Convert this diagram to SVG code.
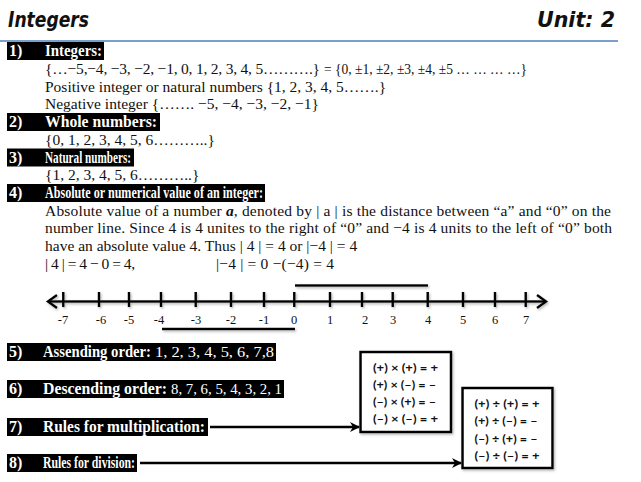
<svg xmlns="http://www.w3.org/2000/svg" width="641" height="482" viewBox="0 0 641 482">
<defs>
<style>
.title{font-family:"DejaVu Sans","Liberation Sans",sans-serif;font-weight:bold;font-style:italic;font-size:21px;fill:#111}
.hb{fill:#000}
.ht{font-family:"Liberation Serif","Times New Roman",serif;font-weight:bold;font-size:16px;fill:#fff}
.hn{font-family:"Liberation Serif","Times New Roman",serif;font-size:15px;fill:#fff}
.bt{font-family:"Liberation Serif","Times New Roman",serif;font-size:15.5px;fill:#111}
.nl{font-family:"Liberation Serif","Times New Roman",serif;font-size:12.5px;fill:#111;text-anchor:middle}
.rt{font-family:Lato,"Open Sans",sans-serif;font-weight:bold;font-size:11.5px;fill:#111}
.rb{fill:#fff;stroke:#000;stroke-width:2.5}
.ax{stroke:#000;stroke-width:2.5;fill:none}
.tk{stroke:#000;stroke-width:2.5}
.con{stroke:#000;stroke-width:2.5;fill:none}
</style>
<marker id="ah" viewBox="0 0 10 10" refX="9" refY="5" markerWidth="4" markerHeight="4" orient="auto" markerUnits="strokeWidth">
<path d="M0,0 L10,5 L0,10 L3,5 z" fill="#000"/>
</marker>
<filter id="sh" x="-10%" y="-10%" width="130%" height="140%">
<feDropShadow dx="1.2" dy="1.5" stdDeviation="0.8" flood-color="#888" flood-opacity="0.6"/>
</filter>
</defs>
<rect width="641" height="482" fill="#fff"/>

<g id="header">
<text class="title" x="8" y="27" textLength="81" lengthAdjust="spacingAndGlyphs">Integers</text>
<text class="title" x="537" y="27" textLength="78" lengthAdjust="spacingAndGlyphs">Unit: 2</text>
<line x1="0" y1="41" x2="618" y2="41" stroke="#4f7fbd" stroke-width="1.3"/>
</g>

<g id="sec1">
<rect class="hb" x="7" y="42" width="97" height="18"/>
<text class="ht" x="9" y="56">1)</text>
<text class="ht" x="45" y="56" textLength="57" lengthAdjust="spacingAndGlyphs">Integers:</text>
<text class="bt" x="45" y="74" textLength="275">{…−5,−4, −3, −2, −1, 0, 1, 2, 3, 4, 5……….}</text>
<text class="bt" x="324" y="74" textLength="203" lengthAdjust="spacingAndGlyphs">= {0, ±1, ±2, ±3, ±4, ±5 … … … …}</text>
<text class="bt" x="45" y="91.5">Positive integer or natural numbers {1, 2, 3, 4, 5…….}</text>
<text class="bt" x="45" y="109.2">Negative integer {……. −5, −4, −3, −2, −1}</text>
</g>

<g id="sec2">
<rect class="hb" x="7" y="113" width="153" height="18"/>
<text class="ht" x="9" y="127">2)</text>
<text class="ht" x="45" y="127" textLength="112" lengthAdjust="spacingAndGlyphs">Whole numbers:</text>
<text class="bt" x="45" y="144.7">{0, 1, 2, 3, 4, 5, 6………..}</text>
</g>

<g id="sec3">
<rect class="hb" x="7" y="148.5" width="127" height="18"/>
<text class="ht" x="9" y="162.5">3)</text>
<text class="ht" x="45" y="162.5" textLength="86" lengthAdjust="spacingAndGlyphs">Natural numbers:</text>
<text class="bt" x="45" y="180.2">{1, 2, 3, 4, 5, 6………..}</text>
</g>

<g id="sec4">
<rect class="hb" x="7" y="184" width="258" height="18"/>
<text class="ht" x="9" y="198">4)</text>
<text class="ht" x="45" y="198" textLength="218" lengthAdjust="spacingAndGlyphs">Absolute or numerical value of an integer:</text>
<text class="bt" x="45" y="215.7" textLength="566">Absolute value of a number <tspan font-weight="bold" font-style="italic">a</tspan>, denoted by | a | is the distance between “a” and “0” on the</text>
<text class="bt" x="45" y="233.4" textLength="567">number line. Since 4 is 4 unites to the right of “0” and −4 is 4 units to the left of “0” both</text>
<text class="bt" x="45" y="251.1">have an absolute value 4. Thus | 4 | = 4 or |−4 | = 4</text>
<text class="bt" x="45" y="268.8" textLength="90">| 4 | = 4 − 0 = 4,</text>
<text class="bt" x="216" y="268.8" textLength="118">|−4 | = 0 −(−4) = 4</text>
</g>

<g id="numberline" filter="url(#sh)">
<line class="ax" x1="48" y1="301.5" x2="546" y2="301.5"/>
<polyline class="ax" points="57,295 48,301.5 57,308"/>
<polyline class="ax" points="537,295 546,301.5 537,308"/>
<g class="tk">
<line x1="63.3" y1="292" x2="63.3" y2="307"/>
<line x1="99" y1="292" x2="99" y2="307"/>
<line x1="129" y1="292" x2="129" y2="307"/>
<line x1="161" y1="292" x2="161" y2="307"/>
<line x1="195.7" y1="292" x2="195.7" y2="307"/>
<line x1="231" y1="292" x2="231" y2="307"/>
<line x1="264" y1="292" x2="264" y2="307"/>
<line x1="294.3" y1="292" x2="294.3" y2="307"/>
<line x1="330" y1="292" x2="330" y2="307"/>
<line x1="362" y1="292" x2="362" y2="307"/>
<line x1="392.7" y1="292" x2="392.7" y2="307"/>
<line x1="427.7" y1="292" x2="427.7" y2="307"/>
<line x1="463" y1="292" x2="463" y2="307"/>
<line x1="495" y1="292" x2="495" y2="307"/>
<line x1="525.7" y1="292" x2="525.7" y2="307"/>
</g>
<line class="tk" x1="295" y1="285.5" x2="428" y2="285.5"/>
<line class="tk" x1="162" y1="329" x2="295" y2="329"/>
</g>
<g id="numberline-labels">
<text class="nl" x="63" y="323.5">-7</text>
<text class="nl" x="101" y="323.5">-6</text>
<text class="nl" x="129" y="323.5">-5</text>
<text class="nl" x="159" y="323.5">-4</text>
<text class="nl" x="196" y="323.5">-3</text>
<text class="nl" x="231" y="323.5">-2</text>
<text class="nl" x="264" y="323.5">-1</text>
<text class="nl" x="294" y="323.5">0</text>
<text class="nl" x="330" y="323.5">1</text>
<text class="nl" x="365" y="323.5">2</text>
<text class="nl" x="393" y="323.5">3</text>
<text class="nl" x="428" y="323.5">4</text>
<text class="nl" x="463" y="323.5">5</text>
<text class="nl" x="495" y="323.5">6</text>
<text class="nl" x="526" y="323.5">7</text>
</g>

<g id="sec5">
<rect class="hb" x="7" y="343" width="269" height="18"/>
<text class="ht" x="9" y="357">5)</text>
<text class="ht" x="43" y="357" textLength="108" lengthAdjust="spacingAndGlyphs">Assending order:</text>
<text class="hn" x="155" y="357" textLength="119" lengthAdjust="spacingAndGlyphs">1, 2, 3, 4, 5, 6, 7,8</text>
</g>

<g id="sec6">
<rect class="hb" x="7" y="380" width="277" height="18"/>
<text class="ht" x="9" y="394">6)</text>
<text class="ht" x="43" y="394" textLength="124" lengthAdjust="spacingAndGlyphs">Descending order:</text>
<text class="hn" x="171" y="394" textLength="111" lengthAdjust="spacingAndGlyphs">8, 7, 6, 5, 4, 3, 2, 1</text>
</g>

<g id="sec7">
<rect class="hb" x="7" y="418" width="201" height="18"/>
<text class="ht" x="9" y="432">7)</text>
<text class="ht" x="43" y="432" textLength="162" lengthAdjust="spacingAndGlyphs">Rules for multiplication:</text>
</g>

<g id="sec8">
<rect class="hb" x="7" y="454" width="130" height="18"/>
<text class="ht" x="9" y="468">8)</text>
<text class="ht" x="43" y="468" textLength="92" lengthAdjust="spacingAndGlyphs">Rules for division:</text>
</g>

<g id="mult-box">
<rect class="rb" x="360.5" y="352" width="90.5" height="80" filter="url(#sh)"/>
<text class="rt" x="373" y="372" textLength="65" lengthAdjust="spacingAndGlyphs">(+) × (+) = +</text>
<text class="rt" x="373" y="389" textLength="63" lengthAdjust="spacingAndGlyphs">(+) × (–) = –</text>
<text class="rt" x="373" y="406" textLength="63" lengthAdjust="spacingAndGlyphs">(–) × (+) = –</text>
<text class="rt" x="373" y="423" textLength="65" lengthAdjust="spacingAndGlyphs">(–) × (–) = +</text>
</g>

<g id="div-box">
<rect class="rb" x="462.5" y="388" width="90" height="80" filter="url(#sh)"/>
<text class="rt" x="474.5" y="407.5" textLength="65" lengthAdjust="spacingAndGlyphs">(+) ÷ (+) = +</text>
<text class="rt" x="474.5" y="425" textLength="63" lengthAdjust="spacingAndGlyphs">(+) ÷ (–) = –</text>
<text class="rt" x="474.5" y="442.5" textLength="63" lengthAdjust="spacingAndGlyphs">(–) ÷ (+) = –</text>
<text class="rt" x="474.5" y="459.5" textLength="65" lengthAdjust="spacingAndGlyphs">(–) ÷ (–) = +</text>
</g>

<g id="connectors">
<line class="con" x1="210" y1="427" x2="359" y2="427" marker-end="url(#ah)"/>
<line class="con" x1="140" y1="463" x2="461" y2="463" marker-end="url(#ah)"/>
</g>
</svg>
